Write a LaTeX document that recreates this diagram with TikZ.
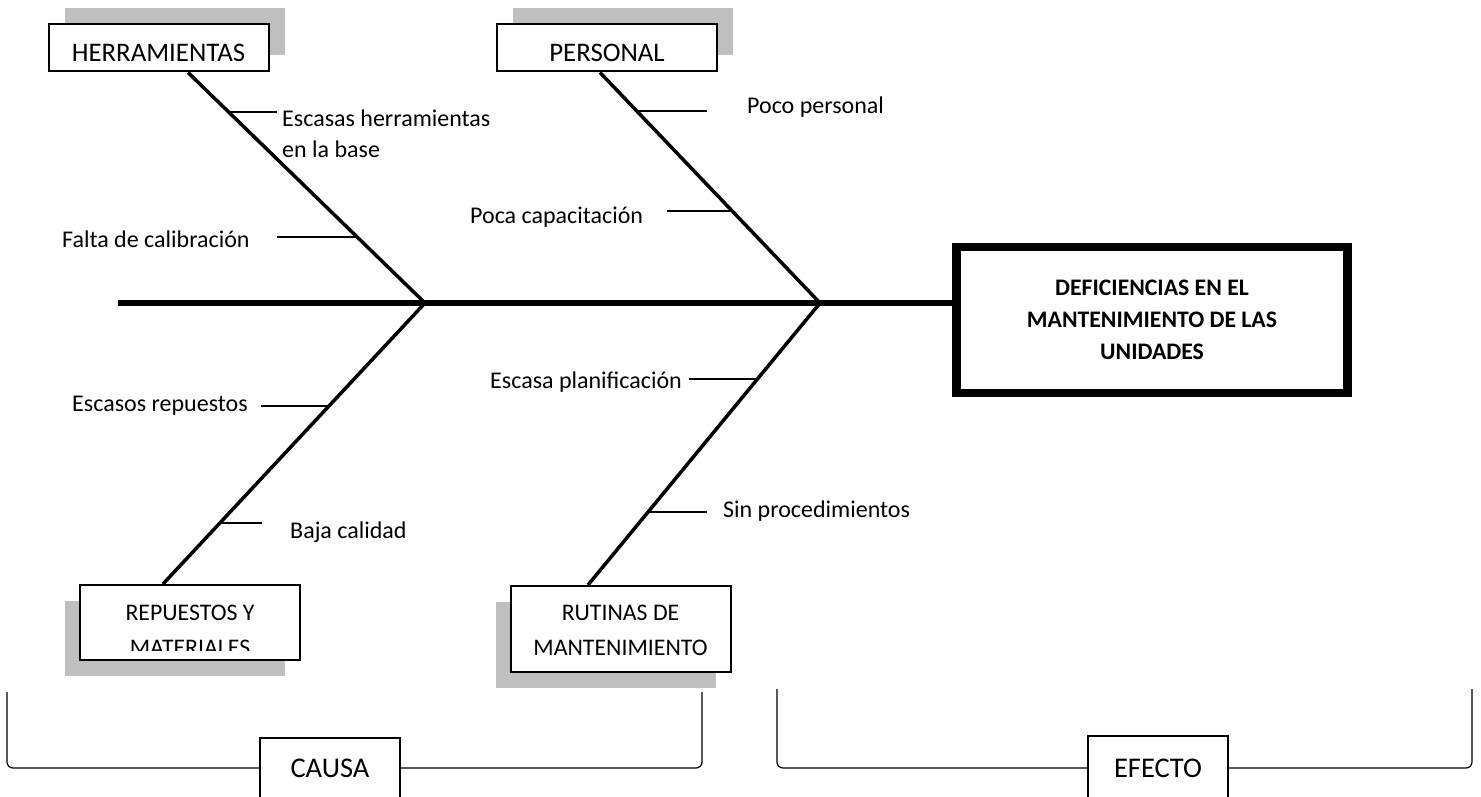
\documentclass[tikz,border=0pt]{standalone}
\usepackage{fontspec}
\setmainfont{Carlito}
\usetikzlibrary{shadows}
\definecolor{ShadowGray}{RGB}{191,191,191}
\tikzstyle{LabelText}=[anchor=base west,inner sep=0pt,align=left,
font=\fontsize{24}{32}\selectfont]
\tikzstyle{CauseBox}=[draw,line width=2pt,fill=white,inner sep=0pt,
minimum width=220pt,font=\fontsize{23.8}{35}\selectfont]
\tikzstyle{TopShadow}=[drop shadow={shadow xshift=16pt,shadow yshift=16pt,
fill=ShadowGray,opacity=1}]
\tikzstyle{BottomShadow}=[drop shadow={shadow xshift=-15pt,shadow yshift=-16pt,
fill=ShadowGray,opacity=1}]
\tikzstyle{EffectBox}=[draw,line width=8pt,minimum width=392pt,minimum height=146pt,
align=center,font=\bfseries\fontsize{23.7}{32}\selectfont]
\tikzstyle{TagBox}=[draw,line width=1.5pt,fill=white,minimum width=140pt,
minimum height=60pt,text height=18.4pt,text depth=0pt,font=\fontsize{28.5}{30}\selectfont]
\tikzstyle{Spine}=[line width=5.5pt]
\tikzstyle{Bone}=[line width=3.5pt]
\tikzstyle{Rib}=[line width=1.5pt]
\tikzstyle{Brace}=[line width=1.2pt,rounded corners=6pt]

\begin{document}
\begin{tikzpicture}[x=1pt,y=-1pt]
        \useasboundingbox (0,0) rectangle (1481,797);
        \clip (0,0) rectangle (1481,797);
        % effect
        \node[EffectBox](effect)at(1152,320){DEFICIENCIAS EN EL\\MANTENIMIENTO DE LAS\\UNIDADES};
        \draw[line width=2pt]([shift={(8,7)}]effect.north west)rectangle([shift={(-8,-7)}]effect.south east);
        % causes
        \node[CauseBox,TopShadow,minimum height=47pt,text height=27.3pt,text depth=0pt,
            font=\fontsize{26.8}{30}\selectfont](herr)at(158.5,48){HERRAMIENTAS};
        \node[CauseBox,TopShadow,minimum height=47pt,text height=27.3pt,text depth=0pt,
            font=\fontsize{26.8}{30}\selectfont](pers)at(607,48){PERSONAL};
        \node[CauseBox,BottomShadow,minimum height=75pt](rep)at(190,622.5){};
        \node[CauseBox,BottomShadow,minimum height=86pt](rut)at(620.5,629){};
        \begin{scope}
            \coordinate(repCut)at(300,650);
            \clip(rep.north west)rectangle(repCut);
            \node[CauseBox,draw=none,fill=none,anchor=base,align=center](repText)at(190,655.7){REPUESTOS Y\\MATERIALES};
        \end{scope}
        \node[CauseBox,draw=none,fill=none,anchor=base,align=center](rutText)at(620.5,655.7){RUTINAS DE\\MANTENIMIENTO};
        % spine and bones
        \coordinate(tail)at(118,303);
        \coordinate(j1)at(425,303);
        \coordinate(j2)at(820,303);
        \draw[Spine](tail)--(tail-|effect.west);
        \draw[Bone]([xshift=29.5pt]herr.south)--(j1);
        \draw[Bone]([xshift=-7pt]pers.south)--(j2);
        \draw[Bone](j1)--([xshift=-27pt]rep.north);
        \draw[Bone](j2)--([xshift=-32.5pt]rut.north);
        % ribs
        \coordinate(r1a)at(229,112);\coordinate(r1b)at(277,112);
        \coordinate(r2a)at(357,237);\coordinate(r2b)at(277,237);
        \coordinate(r3a)at(637,111);\coordinate(r3b)at(707,111);
        \coordinate(r4a)at(732,211);\coordinate(r4b)at(667,211);
        \coordinate(r5a)at(329,406);\coordinate(r5b)at(261,406);
        \coordinate(r6a)at(221,523);\coordinate(r6b)at(262,523);
        \coordinate(r7a)at(758,379);\coordinate(r7b)at(689,379);
        \coordinate(r8a)at(649,512);\coordinate(r8b)at(707,512);
        \foreach \r in {1,...,8}
            \draw[Rib](r\r a)--(r\r b);
        % labels
        \node[LabelText](escHerr)at(282,158){Escasas herramientas\\en la base};
        \node[LabelText](falCal)at(62,247){Falta de calibración};
        \node[LabelText](pocPers)at(747,114){Poco personal};
        \node[LabelText](pocCap)at(470,223){Poca capacitación};
        \node[LabelText](escRep)at(72,411){Escasos repuestos};
        \node[LabelText](bajCal)at(290,538){Baja calidad};
        \node[LabelText](escPlan)at(490,388){Escasa planificación};
        \node[LabelText](sinProc)at(723,517){Sin procedimientos};
        % braces
        \node[TagBox](causa)at(330,768){CAUSA};
        \node[TagBox,minimum height=64pt](efecto)at(1158,768){EFECTO};
        \coordinate(cL)at(7,692);\coordinate(cR)at(702,692);
        \coordinate(eL)at(777,689);\coordinate(eR)at(1472,689);
        \draw[Brace](cL)|-(causa.west);
        \draw[Brace](causa.east)-|(cR);
        \draw[Brace](eL)|-(efecto.west);
        \draw[Brace](efecto.east)-|(eR);
    \end{tikzpicture}
\end{document}
